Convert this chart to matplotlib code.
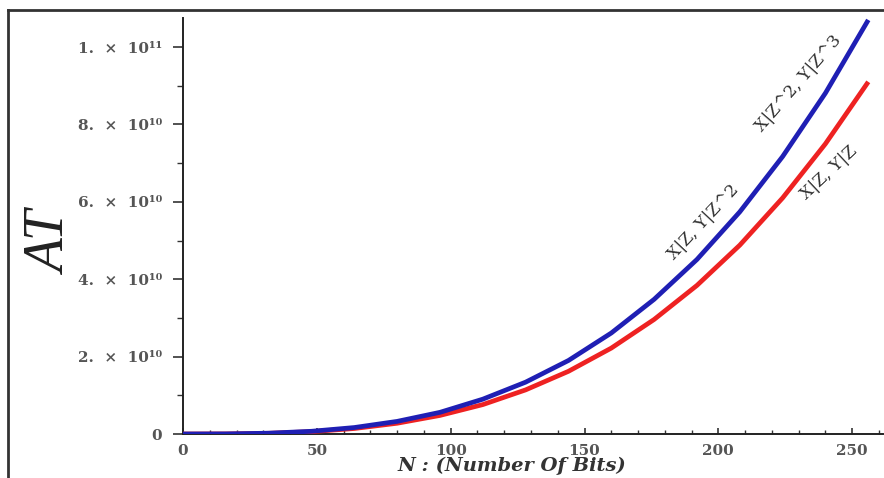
import matplotlib
matplotlib.use("Agg")
import matplotlib.pyplot as plt
from matplotlib.lines import Line2D
from matplotlib.ticker import MultipleLocator, FixedLocator

# ---- data (AT values in units of 1e9) ----
n_bits = [0, 16, 32, 48, 64, 80, 96, 112, 128, 144, 160, 176, 192, 208, 224, 240, 256]
at_blue = [0, 0.026, 0.21, 0.70, 1.67, 3.26, 5.6, 9.0, 13.4, 19.0, 26.1, 34.8, 45.1, 57.4, 71.7, 88.1, 107.0]
at_red = [0, 0.022, 0.18, 0.60, 1.42, 2.78, 4.8, 7.6, 11.4, 16.2, 22.2, 29.6, 38.4, 48.8, 61.0, 75.0, 91.0]
blue_labels = ["X|Z, Y|Z^2", "X|Z^2, Y|Z^3"]
red_label = "X|Z, Y|Z"
x_ticks = [0, 50, 100, 150, 200, 250]
y_ticks = [0, 20, 40, 60, 80, 100]
y_tick_labels = ["0", "2.  ×  10¹⁰", "4.  ×  10¹⁰", "6.  ×  10¹⁰", "8.  ×  10¹⁰", "1.  ×  10¹¹"]

SERIF = ["DejaVu Serif", "DejaVu Sans"]

W, H = 884, 478
fig = plt.figure(figsize=(W / 100, H / 100), dpi=100)
ax = fig.add_axes([183 / W, 1 - 434 / H, (883 - 183) / W, (434 - 18) / H])

ax.plot(n_bits, at_red, color="#ee2222", lw=3.4, solid_capstyle="butt", zorder=3)
ax.plot(n_bits, at_blue, color="#1f1fb4", lw=3.4, solid_capstyle="butt", zorder=4)

ax.set_xlim(0, 261.5)
ax.set_ylim(0, 107.5)
for s in ["top", "right"]:
    ax.spines[s].set_visible(False)
for s in ["left", "bottom"]:
    ax.spines[s].set_linewidth(1.4)
    ax.spines[s].set_color("#222222")

ax.xaxis.set_major_locator(FixedLocator(x_ticks))
ax.xaxis.set_minor_locator(MultipleLocator(10))
ax.yaxis.set_major_locator(FixedLocator(y_ticks))
ax.yaxis.set_minor_locator(MultipleLocator(10))
ax.set_yticklabels(y_tick_labels)

for lab in ax.get_yticklabels():
    lab.set_fontfamily(SERIF)
    lab.set_fontweight("bold")
    lab.set_fontsize(11)
    lab.set_color("#555555")
for lab in ax.get_xticklabels():
    lab.set_fontfamily(SERIF)
    lab.set_fontweight("bold")
    lab.set_fontsize(11)
    lab.set_color("#555555")

ax.tick_params(axis="y", which="major", direction="out", length=7, width=1.2, colors="#333333", labelcolor="#555555", pad=8)
ax.tick_params(axis="y", which="minor", direction="out", length=4, width=1.0, colors="#333333")
ax.tick_params(axis="x", which="major", direction="in", length=4, width=1.2, colors="#333333", labelcolor="#555555", pad=7)
ax.tick_params(axis="x", which="minor", direction="in", length=3, width=1.0, colors="#333333")

ax.set_xlabel("N : (Number Of Bits)", fontfamily=SERIF, fontstyle="italic",
              fontweight="bold", fontsize=14, color="#333333")
ax.xaxis.set_label_coords((512 - 183) / 700, -0.054)
ax.xaxis.label.set_va("top")
ax.set_ylabel("AT", fontfamily="Liberation Serif", fontstyle="italic", fontsize=40,
              color="#222222")
ax.yaxis.set_label_coords(-0.150, 0.457)

lab_kw = dict(fontfamily=SERIF, fontsize=12.5, color="#333333",
              ha="center", va="center", rotation_mode="anchor")
ax.text(194.4, 54.8, blue_labels[0], rotation=47, **lab_kw)
ax.text(229.9, 90.7, blue_labels[1], rotation=49, **lab_kw)
ax.text(241.4, 67.4, red_label, rotation=43, **lab_kw)

# outer frame
fig.add_artist(Line2D([8 / W, 1], [1 - 10 / H, 1 - 10 / H], color="#333333", lw=2.0))
fig.add_artist(Line2D([8 / W, 8 / W], [0, 1 - 10 / H], color="#333333", lw=2.0))

fig.savefig("out.png", dpi=100, facecolor="white")
